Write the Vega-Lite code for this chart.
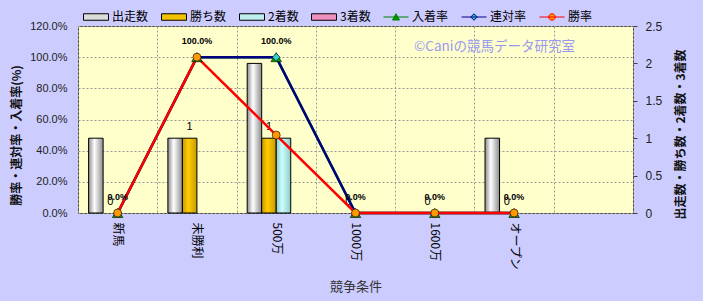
{
  "$schema": "https://vega.github.io/schema/vega-lite/v6.json",
  "width": 555,
  "height": 187,
  "autosize": {"type": "none"},
  "padding": {"left": 78, "top": 26, "right": 70, "bottom": 88},
  "background": "#CCCCFF",
  "config": {
    "view": {"fill": "#FFFFCC", "stroke": "#404040", "strokeWidth": 1},
    "font": "Noto Sans CJK JP",
    "axis": {"domain": false, "labelFont": "Liberation Sans", "labelColor": "#222222", "titleColor": "#111111"}
  },
  "title": {
    "text": "©Caniの競馬データ研究室",
    "orient": "top",
    "anchor": "end",
    "frame": "group",
    "font": "Noto Sans CJK JP",
    "fontSize": 13.5,
    "fontWeight": "normal",
    "color": "#9999EE",
    "dx": -58,
    "dy": 49,
    "offset": 0
  },
  "data": {
    "values": [
      {"c": "新馬", "s": "出走数", "v": 1},
      {"c": "未勝利", "s": "出走数", "v": 1},
      {"c": "500万", "s": "出走数", "v": 2},
      {"c": "1000万", "s": "出走数", "v": 0},
      {"c": "1600万", "s": "出走数", "v": 0},
      {"c": "オープン", "s": "出走数", "v": 1},
      {"c": "新馬", "s": "勝ち数", "v": 0},
      {"c": "未勝利", "s": "勝ち数", "v": 1},
      {"c": "500万", "s": "勝ち数", "v": 1},
      {"c": "1000万", "s": "勝ち数", "v": 0},
      {"c": "1600万", "s": "勝ち数", "v": 0},
      {"c": "オープン", "s": "勝ち数", "v": 0},
      {"c": "新馬", "s": "2着数", "v": 0},
      {"c": "未勝利", "s": "2着数", "v": 0},
      {"c": "500万", "s": "2着数", "v": 1},
      {"c": "1000万", "s": "2着数", "v": 0},
      {"c": "1600万", "s": "2着数", "v": 0},
      {"c": "オープン", "s": "2着数", "v": 0},
      {"c": "新馬", "s": "3着数", "v": 0},
      {"c": "未勝利", "s": "3着数", "v": 0},
      {"c": "500万", "s": "3着数", "v": 0},
      {"c": "1000万", "s": "3着数", "v": 0},
      {"c": "1600万", "s": "3着数", "v": 0},
      {"c": "オープン", "s": "3着数", "v": 0},
      {"c": "新馬", "s": "入着率", "v": 0},
      {"c": "未勝利", "s": "入着率", "v": 1},
      {"c": "500万", "s": "入着率", "v": 1},
      {"c": "1000万", "s": "入着率", "v": 0},
      {"c": "1600万", "s": "入着率", "v": 0},
      {"c": "オープン", "s": "入着率", "v": 0},
      {"c": "新馬", "s": "連対率", "v": 0},
      {"c": "未勝利", "s": "連対率", "v": 1},
      {"c": "500万", "s": "連対率", "v": 1},
      {"c": "1000万", "s": "連対率", "v": 0},
      {"c": "1600万", "s": "連対率", "v": 0},
      {"c": "オープン", "s": "連対率", "v": 0},
      {"c": "新馬", "s": "勝率", "v": 0},
      {"c": "未勝利", "s": "勝率", "v": 1},
      {"c": "500万", "s": "勝率", "v": 0.5},
      {"c": "1000万", "s": "勝率", "v": 0},
      {"c": "1600万", "s": "勝率", "v": 0},
      {"c": "オープン", "s": "勝率", "v": 0}
    ]
  },
  "encoding": {
    "x": {
      "field": "c",
      "type": "nominal",
      "sort": null,
      "scale": {"domain": ["新馬", "未勝利", "500万", "1000万", "1600万", "オープン", " "], "paddingInner": 0, "paddingOuter": 0},
      "axis": {
        "title": "競争条件",
        "titleFont": "Noto Sans CJK JP",
        "titleFontSize": 13,
        "titleFontWeight": "normal",
        "titleColor": "#333333",
        "titleY": 73,
        "titleBaseline": "middle",
        "labelAngle": 90,
        "labelFont": "Noto Sans CJK JP",
        "labelFontSize": 12,
        "labelColor": "#000000",
        "labelPadding": 9,
        "ticks": false,
        "grid": true,
        "tickBand": "extent",
        "gridDash": [2, 2],
        "gridColor": "#999999"
      }
    }
  },
  "layer": [
    {
      "encoding": {
        "y": {
          "field": "v",
          "type": "quantitative",
          "scale": {"domain": [0, 2.5], "nice": false},
          "axis": {
            "orient": "right",
            "values": [0, 0.5, 1, 1.5, 2, 2.5],
            "format": "~g",
            "grid": false,
            "ticks": true,
            "tickSize": 4,
            "tickColor": "#404040",
            "labelPadding": 8,
            "labelFontSize": 12,
            "title": "出走数・勝ち数・2着数・3着数",
            "titleFont": "Noto Sans CJK JP",
            "titleFontSize": 12,
            "titleFontWeight": "bold",
            "titleAngle": 270,
            "titleX": 47,
            "titleY": 108,
            "titleBaseline": "middle",
            "titleAlign": "center"
          }
        },
        "xOffset": {
          "field": "s",
          "type": "nominal",
          "scale": {"domain": ["出走数", "勝ち数", "2着数", "3着数"], "paddingInner": 0, "paddingOuter": 0.73}
        }
      },
      "layer": [
        {
          "transform": [{"filter": "datum.s === '出走数' && datum.v > 0"}],
          "mark": {"type": "bar", "stroke": "#000000", "strokeWidth": 1,
            "color": {"gradient": "linear", "x1": 0, "y1": 0, "x2": 1, "y2": 0,
              "stops": [{"offset": 0, "color": "#8c8c8c"}, {"offset": 0.4, "color": "#ffffff"}, {"offset": 1, "color": "#8c8c8c"}]}}
        },
        {
          "transform": [{"filter": "datum.s === '勝ち数' && datum.v > 0"}],
          "mark": {"type": "bar", "stroke": "#000000", "strokeWidth": 1,
            "color": {"gradient": "linear", "x1": 0, "y1": 0, "x2": 1, "y2": 0,
              "stops": [{"offset": 0, "color": "#c79a00"}, {"offset": 0.4, "color": "#ffcc00"}, {"offset": 1, "color": "#c79a00"}]}}
        },
        {
          "transform": [{"filter": "datum.s === '2着数' && datum.v > 0"}],
          "mark": {"type": "bar", "stroke": "#000000", "strokeWidth": 1,
            "color": {"gradient": "linear", "x1": 0, "y1": 0, "x2": 1, "y2": 0,
              "stops": [{"offset": 0, "color": "#8fc8c8"}, {"offset": 0.4, "color": "#ccffff"}, {"offset": 1, "color": "#8fc8c8"}]}}
        },
        {
          "transform": [{"filter": "datum.s === '3着数' && datum.v > 0"}],
          "mark": {"type": "bar", "stroke": "#000000", "strokeWidth": 1,
            "color": {"gradient": "linear", "x1": 0, "y1": 0, "x2": 1, "y2": 0,
              "stops": [{"offset": 0, "color": "#c0608f"}, {"offset": 0.4, "color": "#ff99cc"}, {"offset": 1, "color": "#c0608f"}]}}
        },
        {
          "transform": [{"filter": "datum.s === '勝ち数'"}],
          "mark": {"type": "text", "font": "Liberation Sans", "fontSize": 11, "color": "#000000", "baseline": "bottom", "dy": -6},
          "encoding": {"text": {"field": "v", "type": "quantitative", "format": "d"}}
        }
      ]
    },
    {
      "encoding": {
        "y": {
          "field": "v",
          "type": "quantitative",
          "scale": {"domain": [0, 1.2], "nice": false},
          "axis": {
            "orient": "left",
            "values": [0, 0.2, 0.4, 0.6, 0.8, 1.0, 1.2],
            "format": ".1%",
            "grid": true,
            "gridDash": [2, 2],
            "gridColor": "#999999",
            "ticks": false,
            "labelPadding": 11,
            "labelFontSize": 11,
            "title": "勝率・連対率・入着率(%)",
            "titleFont": "Noto Sans CJK JP",
            "titleFontSize": 12,
            "titleFontWeight": "bold",
            "titleAngle": 270,
            "titleX": -62,
            "titleY": 109,
            "titleBaseline": "middle",
            "titleAlign": "center"
          }
        }
      },
      "layer": [
        {
          "transform": [{"filter": "indexof(['入着率','連対率','勝率'], datum.s) >= 0"}],
          "mark": {"type": "line", "strokeWidth": 2.5},
          "encoding": {
            "color": {"field": "s", "type": "nominal", "scale": {"domain": ["入着率", "連対率", "勝率"], "range": ["#008000", "#000080", "#ff0000"]}, "legend": null}
          }
        },
        {
          "transform": [{"filter": "datum.s === '入着率'"}],
          "mark": {"type": "point", "shape": "triangle-up", "filled": true, "fill": "#00a000", "stroke": "#000000", "strokeWidth": 0.6, "size": 110, "opacity": 1}
        },
        {
          "transform": [{"filter": "datum.s === '連対率'"}],
          "mark": {"type": "point", "shape": "diamond", "filled": true, "fill": "#33cccc", "stroke": "#000000", "strokeWidth": 0.6, "size": 60, "opacity": 1}
        },
        {
          "transform": [{"filter": "datum.s === '勝率'"}],
          "mark": {"type": "point", "shape": "circle", "filled": true, "fill": "#ff9900", "stroke": "#000000", "strokeWidth": 0.6, "size": 64, "opacity": 1}
        },
        {
          "transform": [{"filter": "datum.s === '連対率'"}],
          "mark": {"type": "text", "font": "Liberation Sans", "fontSize": 9, "fontWeight": "bold", "color": "#000000", "dy": -16},
          "encoding": {"text": {"field": "v", "type": "quantitative", "format": ".1%"}}
        },
        {
          "transform": [{"filter": "false"}],
          "mark": {"type": "point", "filled": true, "opacity": 1},
          "encoding": {
            "shape": {
              "field": "s",
              "type": "nominal",
              "scale": {"domain": ["出走数", "勝ち数", "2着数", "3着数", "入着率", "連対率", "勝率"],
                "range": ["M-1,-0.26H1V0.26H-1Z", "M-1,-0.26H1V0.26H-1Z", "M-1,-0.26H1V0.26H-1Z", "M-1,-0.26H1V0.26H-1Z",
                  "M-1,0H1M-0.28,0.24L0,-0.26L0.28,0.24Z", "M-1,0H1M0,-0.26L0.26,0L0,0.26L-0.26,0Z", "M-1,0H1M-0.26,0A0.26,0.26,0,1,0,0.26,0A0.26,0.26,0,1,0,-0.26,0Z"]},
              "legend": {
                "title": null,
                "orient": "none",
                "direction": "horizontal",
                "legendX": 5,
                "legendY": -22,
                "columns": 7,
                "columnPadding": 10,
                "labelOffset": 3,
                "labelFont": "Noto Sans CJK JP",
                "labelFontSize": 12,
                "labelColor": "#000000",
                "symbolSize": 625,
                "symbolOpacity": 1
              }
            },
            "fill": {
              "field": "s",
              "type": "nominal",
              "scale": {"domain": ["出走数", "勝ち数", "2着数", "3着数", "入着率", "連対率", "勝率"],
                "range": ["#dcdcdc", "#f2c200", "#bfeeee", "#f090c0", "#00a000", "#33cccc", "#ff9900"]},
              "legend": {"title": null, "orient": "none", "direction": "horizontal", "legendX": 5, "legendY": -22, "columns": 7, "columnPadding": 10, "labelOffset": 3, "labelFont": "Noto Sans CJK JP", "labelFontSize": 12, "labelColor": "#000000", "symbolSize": 625, "symbolOpacity": 1}
            },
            "stroke": {
              "field": "s",
              "type": "nominal",
              "scale": {"domain": ["出走数", "勝ち数", "2着数", "3着数", "入着率", "連対率", "勝率"],
                "range": ["#000000", "#000000", "#000000", "#000000", "#008000", "#000080", "#ff0000"]},
              "legend": {"title": null, "orient": "none", "direction": "horizontal", "legendX": 5, "legendY": -22, "columns": 7, "columnPadding": 10, "labelOffset": 3, "labelFont": "Noto Sans CJK JP", "labelFontSize": 12, "labelColor": "#000000", "symbolSize": 625, "symbolOpacity": 1}
            },
            "strokeWidth": {
              "field": "s",
              "type": "ordinal",
              "scale": {"domain": ["出走数", "勝ち数", "2着数", "3着数", "入着率", "連対率", "勝率"],
                "range": [1, 1, 1, 1, 2.5, 2.5, 2.5]},
              "legend": {"title": null, "orient": "none", "direction": "horizontal", "legendX": 5, "legendY": -22, "columns": 7, "columnPadding": 10, "labelOffset": 3, "labelFont": "Noto Sans CJK JP", "labelFontSize": 12, "labelColor": "#000000", "symbolSize": 625, "symbolOpacity": 1}
            }
          }
        }
      ]
    }
  ],
  "resolve": {"scale": {"y": "independent"}}
}
